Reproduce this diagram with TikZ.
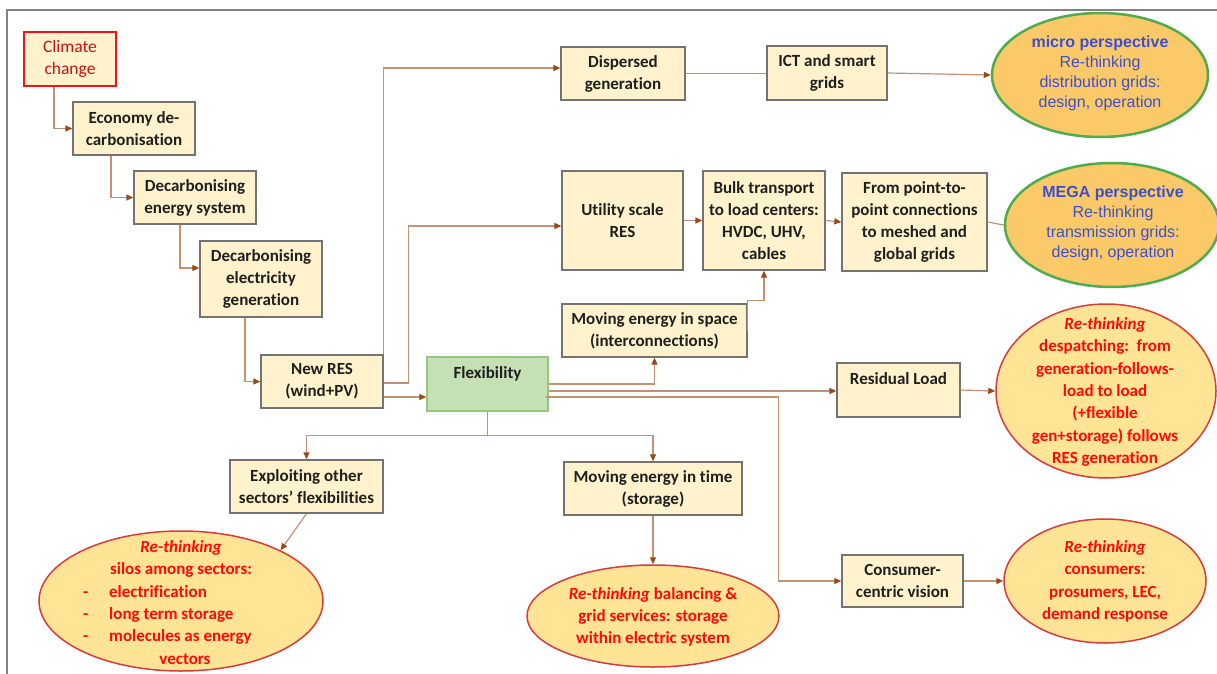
\documentclass[tikz,border=0pt]{standalone}
\usepackage{fontspec}
\setmainfont{Carlito}[RawFeature=-liga]
\newfontfamily\arialfont{Liberation Sans}
\usetikzlibrary{arrows.meta,shapes.geometric}

\definecolor{boxfill}{RGB}{255,242,204}
\definecolor{boxline}{RGB}{115,115,115}
\definecolor{flexfill}{RGB}{197,224,180}
\definecolor{flexline}{RGB}{150,200,125}
\definecolor{climred}{RGB}{240,20,20}
\definecolor{climtext}{RGB}{200,20,20}
\definecolor{linec}{RGB}{195,145,115}
\definecolor{tipc}{RGB}{150,75,25}
\definecolor{orangefill}{RGB}{252,201,104}
\definecolor{greenline}{RGB}{80,170,80}
\definecolor{bluetext}{RGB}{60,80,200}
\definecolor{yellowfill}{RGB}{255,228,150}
\definecolor{redline}{RGB}{215,60,60}
\definecolor{redtext}{RGB}{255,10,10}
\definecolor{framec}{RGB}{130,130,130}

\begin{document}
\begin{tikzpicture}[x=1pt,y=-1pt,
  box/.style={draw=boxline, line width=1.3pt, fill=boxfill, align=center,
    inner sep=0pt, text=black!88,
    font=\fontsize{17}{22}\selectfont\bfseries},
  flexbox/.style={box, draw=flexline, fill=flexfill},
  bluell/.style={ellipse, draw=greenline, line width=2.5pt, fill=orangefill, inner sep=0pt},
  redell/.style={ellipse, draw=redline, line width=1.5pt, fill=yellowfill, inner sep=0pt},
  bluetxt/.style={align=center, inner sep=0pt, text=bluetext,
    font=\arialfont\fontsize{16}{20}\selectfont},
  redtxt/.style={align=center, inner sep=0pt, text=redtext,
    font=\fontsize{17}{22.3}\selectfont\bfseries},
  conn/.style={draw=linec, line width=1.2pt,
    -{Triangle[length=7pt,width=6pt,color=tipc]}},
  link/.style={draw=linec, line width=1.2pt}]
\useasboundingbox (0,0) rectangle (1217,674);

% outer frame (open at right and bottom)
\draw[framec, line width=2pt] (7,674) -- (7,10) -- (1217,10);

% left chain
\node[box, draw=climred, line width=2.6pt, text=climtext,
  font=\fontsize{17.5}{22}\selectfont, minimum width=92pt, minimum height=54pt]
  (climate) at (70,59) {Climate\\change};
\node[box, minimum width=122pt, minimum height=53pt] (econ) at (134,128.5) {Economy de-\\carbonisation};
\node[box, minimum width=122pt, minimum height=53pt] (denergy) at (195,197.5) {Decarbonising\\energy system};
\node[box, minimum width=122pt, minimum height=76pt] (delec) at (261,279) {Decarbonising\\electricity\\generation};
\node[box, minimum width=122pt, minimum height=53pt] (newres) at (322,381.5) {New RES\\(wind+PV)};
\node[flexbox, minimum width=121pt, minimum height=54pt] (flex) at (487.5,384) {Flexibility\\\mbox{}};

% upper branches
\node[box, minimum width=124pt, minimum height=53pt] (dispersed) at (623,73.5) {Dispersed\\generation};
\node[box, minimum width=120pt, minimum height=54pt] (ict) at (827,73) {ICT and smart\\grids};
\node[box, minimum width=121pt, minimum height=99pt] (utility) at (622.5,220.5) {Utility scale\\RES};
\node[box, minimum width=122pt, minimum height=99pt] (bulk) at (764,220.5) {Bulk transport\\to load centers:\\HVDC, UHV,\\cables};
\node[box, minimum width=145pt, minimum height=98pt] (p2p) at (914.5,222) {From point-to-\\point connections\\to meshed and\\global grids};
\node[box, minimum width=185pt, minimum height=53pt] (space) at (654.5,330.5) {Moving energy in space\\(interconnections)};

% lower branches
\node[box, minimum width=178pt, minimum height=53pt] (time) at (653,488.5) {Moving energy in time\\(storage)};
\node[box, minimum width=123pt, minimum height=54pt] (residual) at (898.5,390) {Residual Load\\\mbox{}};
\node[box, minimum width=121pt, minimum height=52pt] (consumer) at (902.5,581) {Consumer-\\centric vision};
\node[box, minimum width=153pt, minimum height=53pt] (exploit) at (306.5,486.5) {Exploiting other\\sectors’ flexibilities};

% perspective ellipses
\node[bluell, minimum width=216pt, minimum height=124pt] (micro) at (1100,75) {};
\node[bluetxt] (microt) at (1100,73) {\textbf{micro perspective}\\Re-thinking\\distribution grids:\\design, operation};
\node[bluell, minimum width=214pt, minimum height=124pt] (mega) at (1112,225) {};
\node[bluetxt] (megat) at (1113,223) {\textbf{MEGA perspective}\\Re-thinking\\transmission grids:\\design, operation};

% re-thinking ellipses
\node[redell, minimum width=220pt, minimum height=174pt] (desp) at (1106,391) {};
\node[redtxt] (despt) at (1105,392) {\textit{Re-thinking}\\despatching:\ \ from\\generation-follows-\\load to load\\(+flexible\\gen+storage) follows\\RES generation};
\node[redell, minimum width=202pt, minimum height=124pt] (consumers) at (1105,581) {};
\node[redtxt] (consumerst) at (1105,581.5) {\textit{Re-thinking}\\consumers:\\prosumers, LEC,\\demand response};
\node[redell, minimum width=252pt, minimum height=102pt] (balancing) at (653,616) {};
\node[redtxt] (balancingt) at (653,617) {\textit{Re-thinking} balancing \&\\grid services: storage\\within electric system};
\node[redell, minimum width=284pt, minimum height=140pt] (silos) at (181,601) {};
\node[redtxt] (silost) at (181,602.5) {\textit{Re-thinking}\\silos among sectors:\\
  \makebox[196pt][l]{-\hspace{21pt}electrification}\\
  \makebox[196pt][l]{-\hspace{21pt}long term storage}\\
  \makebox[196pt][l]{-\hspace{21pt}molecules as energy}\\
  \hspace{8pt}vectors};

% connectors of the left chain
\draw[conn] ([xshift=-16pt]climate.south) |- (econ.west);
\draw[conn] ([xshift=-23pt]econ.south) |- (denergy.west);
\draw[conn] ([xshift=-15pt]denergy.south) |- ([yshift=11pt]delec.west);
\draw[conn] ([xshift=-16pt]delec.south) |- (newres.west);

% from New RES
\draw[conn] (newres.north east) |- ([yshift=5.5pt]dispersed.west);
\draw[conn] ([yshift=-1.5pt]newres.east) -- ++(25,0) |- ([yshift=-5.5pt]utility.west);
\coordinate (nr) at ([yshift=-15.5pt]newres.east);
\draw[conn] (nr) -- (nr -| flex.west);

% upper rows
\draw[link] (dispersed.east) -- (dispersed.east -| ict.west);
\draw[conn] (ict.east) -- (micro.west);
\draw[conn] (utility.east) -- (bulk.west);
\draw[conn] (bulk.east) -- (p2p.west);
\draw[link] (p2p.east) -- (mega.west);
\draw[conn] (space.east) -- ++(0,-30) -| (bulk.south);

% from Flexibility
\draw[conn] (flex.east) -| (space.south);
\coordinate (fr) at ([yshift=-7pt]flex.east);
\draw[conn] (fr) -- (fr -| residual.west);
\coordinate (fc) at ([xshift=-3pt,yshift=-13pt]flex.east);
\draw[conn] (fc) -- ++(233,0) |- (consumer.west);
\draw[conn] (flex.south) -- ++(0,24) -| (time.north);
\draw[conn] ([yshift=-24pt]flex.south) -| (exploit.north);

% into the ellipses
\draw[conn] (residual.east) -- (desp.west);
\draw[conn] (consumer.east) -- (consumers.west);
\draw[conn] (exploit.south) -- (silos.27);
\draw[conn] (time.south) -- (balancing.north);
\end{tikzpicture}
\end{document}
